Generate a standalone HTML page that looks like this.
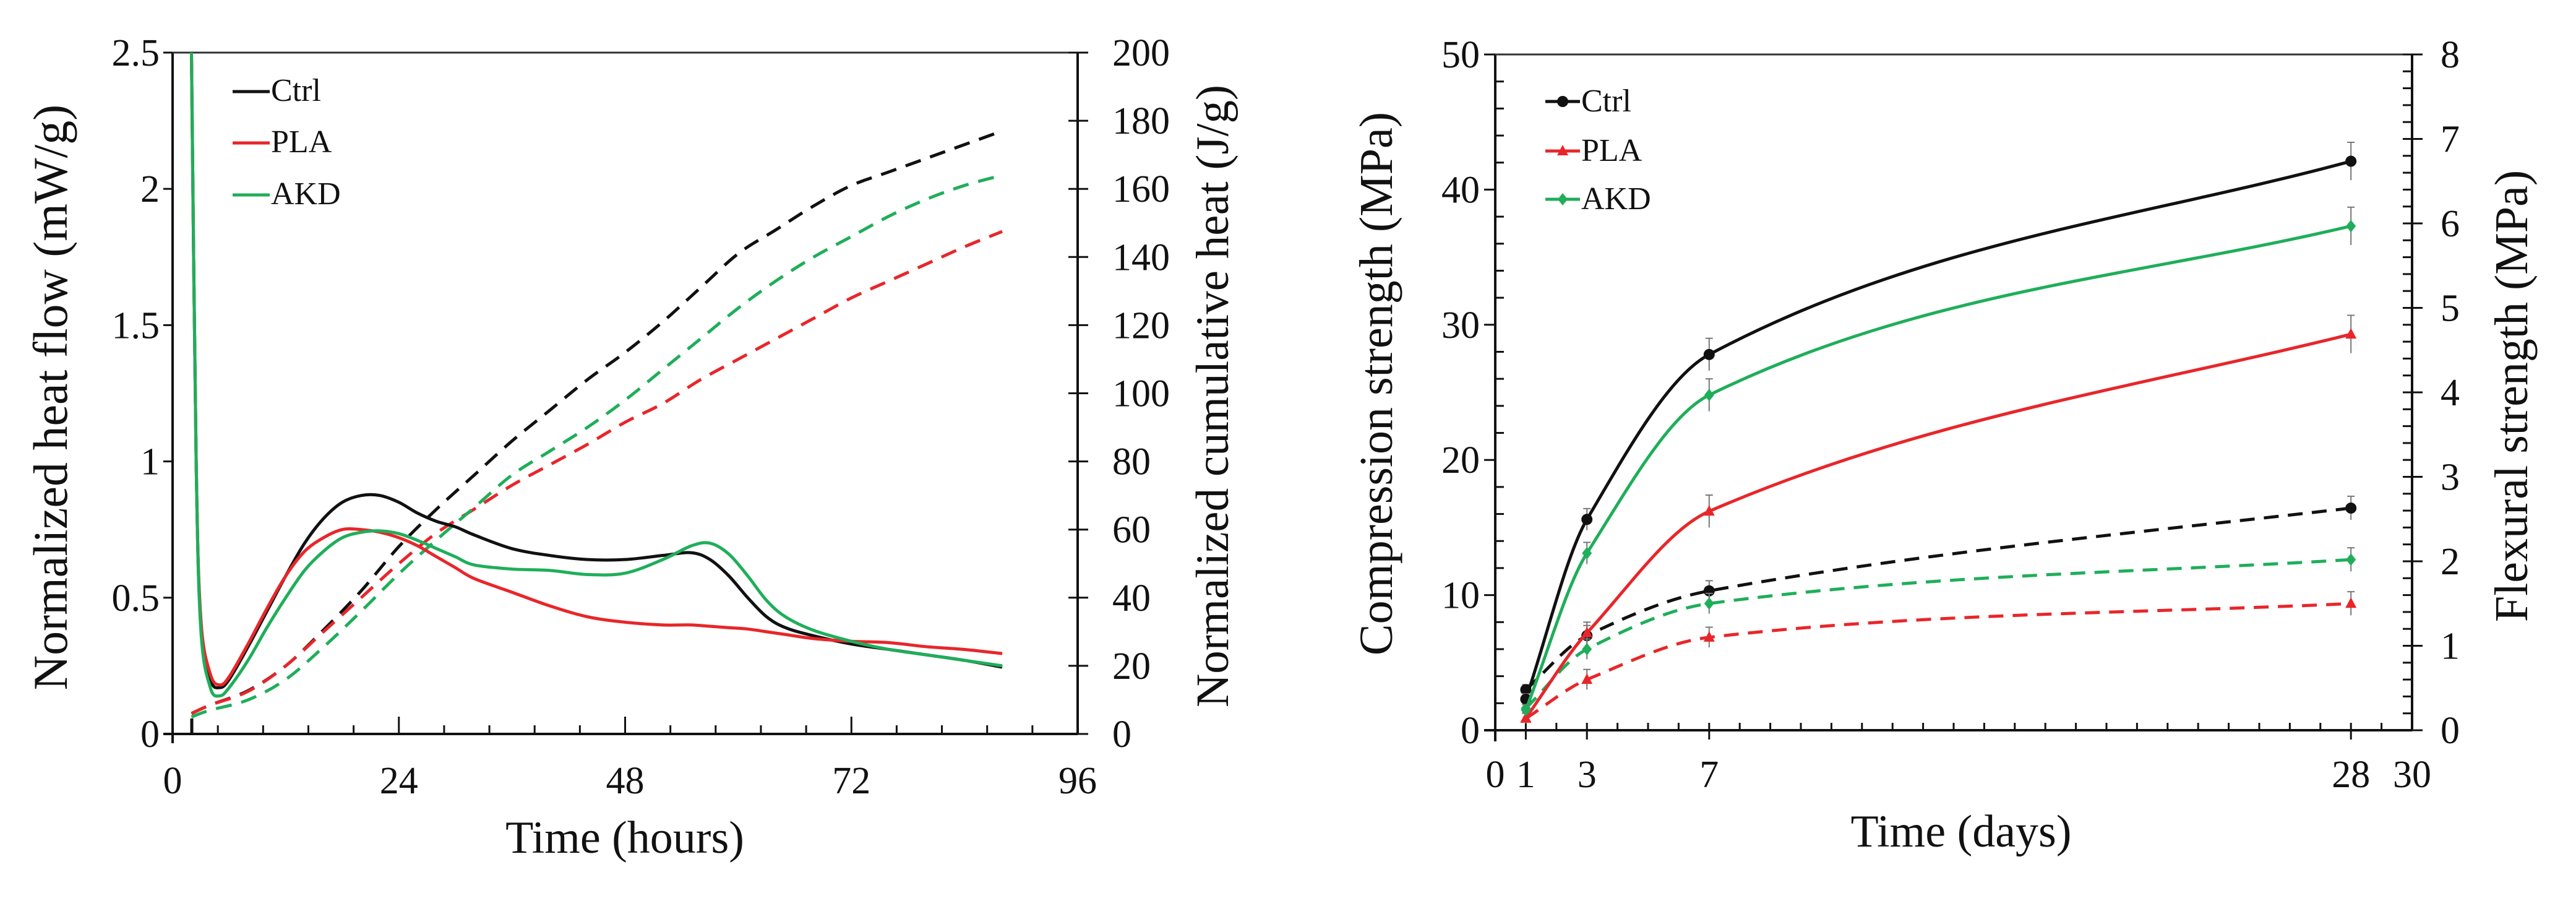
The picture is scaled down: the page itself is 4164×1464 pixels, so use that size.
<!DOCTYPE html>
<html><head><meta charset="utf-8"><style>
html,body{margin:0;padding:0;background:#fff}
svg{display:block}
text{font-family:"Liberation Serif",serif;fill:#111}
</style></head><body>
<svg id="fig" width="4164" height="1464" viewBox="0 0 4164 1464" xmlns="http://www.w3.org/2000/svg">
<defs>
<clipPath id="clipL"><rect x="279" y="85" width="1463" height="1101"/></clipPath>
<clipPath id="clipR"><rect x="2417" y="88" width="1482" height="1092"/></clipPath>
</defs>
<g id="chartL"></g>
<g id="chartR"></g>
</svg>
<script>
// ---- Left chart data ----
const hfTimes = [2,2.5,3,4,5,6,8,10,12,14,16,18,20,22,24,26,28,30,32,36,40,44,48,52,55,57,59,61,63,65,68,72,76,80,84,88];
const hfCtrl = [2.5,1.0,0.4,0.2,0.17,0.2,0.32,0.45,0.58,0.7,0.79,0.85,0.875,0.875,0.85,0.81,0.78,0.76,0.73,0.68,0.655,0.64,0.64,0.655,0.665,0.64,0.58,0.5,0.43,0.39,0.36,0.33,0.31,0.29,0.27,0.245];
const hfPLA = [2.5,1.0,0.42,0.22,0.18,0.21,0.33,0.46,0.58,0.67,0.72,0.75,0.75,0.74,0.72,0.69,0.65,0.61,0.57,0.52,0.47,0.43,0.41,0.40,0.40,0.395,0.39,0.385,0.375,0.365,0.35,0.34,0.335,0.32,0.31,0.295];
const hfAKD = [2.5,1.0,0.38,0.17,0.14,0.17,0.27,0.39,0.5,0.6,0.67,0.72,0.74,0.745,0.735,0.71,0.68,0.65,0.62,0.605,0.6,0.585,0.59,0.64,0.69,0.70,0.66,0.58,0.49,0.43,0.38,0.34,0.31,0.29,0.27,0.25];
const cumTimes = [2,4,8,12,16,20,24,28,32,36,40,44,48,52,56,60,64,68,72,76,80,84,88];
const cumCtrl = [6,8.5,12.7,20,30.5,42,55,66,76,86,95,104,112,121,131,141,148,155,161,165,169,173,177];
const cumPLA = [6,8.5,12.5,20,30,40,50,59,66,73,79,85,91.5,97,104,110,116,122,128,133,138,143,147.5];
const cumAKD = [5,7,10,16,25.5,36,47,57,66.5,76,83,90,98,107,116,125,133,140,146,152,157,161,164];
const xTicksL = [0,24,48,72,96];
const yTicksL = ["0","0.5","1","1.5","2","2.5"];
const y2TicksL = [0,20,40,60,80,100,120,140,160,180,200];

// ---- Right chart data ----
const days = [1,3,7,28];
const compCtrl = [2.3,15.6,27.8,42.1];
const compPLA = [0.9,7.2,16.2,29.3];
const compAKD = [1.5,13.1,24.8,37.3];
const flexCtrl = [0.48,1.12,1.65,2.63];
const flexPLA = [0.14,0.6,1.1,1.5];
const flexAKD = [0.26,0.96,1.5,2.02];
const compErr = [0.4,0.8,1.2,1.4];
const flexErr = [0.06,0.12,0.12,0.14];
const xTicksR = [0,1,3,7,28,30];
const yTicksR = [0,10,20,30,40,50];
const y2TicksR = [0,1,2,3,4,5,6,7,8];

const NS="http://www.w3.org/2000/svg";
function mk(parent,tag,attrs,txt){const e=document.createElementNS(NS,tag);for(const k in attrs)e.setAttribute(k,attrs[k]);if(txt!==undefined)e.textContent=txt;parent.appendChild(e);return e;}
function smooth(pts){let d=`M${pts[0][0]},${pts[0][1]}`;for(let i=0;i<pts.length-1;i++){const p0=pts[Math.max(0,i-1)],p1=pts[i],p2=pts[i+1],p3=pts[Math.min(pts.length-1,i+2)];const c1=[p1[0]+(p2[0]-p0[0])/6,p1[1]+(p2[1]-p0[1])/6];const c2=[p2[0]-(p3[0]-p1[0])/6,p2[1]-(p3[1]-p1[1])/6];d+=` C${c1[0]},${c1[1]} ${c2[0]},${c2[1]} ${p2[0]},${p2[1]}`;}return d;}
// concave-style hermite: interior tangent near smaller-magnitude adjacent secant
function concave(pts){const n=pts.length;const dx=[],s=[];for(let i=0;i<n-1;i++){dx.push(pts[i+1][0]-pts[i][0]);s.push((pts[i+1][1]-pts[i][1])/dx[i]);}
const m=new Array(n);m[0]=s[0];m[n-1]=s[n-2]*0.9;for(let i=1;i<n-1;i++){const a=s[i-1],b=s[i];const lo=Math.abs(a)<Math.abs(b)?a:b,hi=Math.abs(a)<Math.abs(b)?b:a;m[i]=lo+0.22*(hi-lo);}
let d=`M${pts[0][0]},${pts[0][1]}`;for(let i=0;i<n-1;i++){const h=dx[i]/3;d+=` C${pts[i][0]+h},${pts[i][1]+m[i]*h} ${pts[i+1][0]-h},${pts[i+1][1]-m[i+1]*h} ${pts[i+1][0]},${pts[i+1][1]}`;}return d;}
const BLACK="#111",RED="#e8262a",GREEN="#1fae5a";

// ===== Left chart =====
(function(){
const g=document.getElementById('chartL');
const X0=279,X1=1742,Y0=1186,Y1=85;
const xs=t=>X0+(t/96)*(X1-X0), ys=v=>Y0-(v/2.5)*(Y0-Y1), ys2=v=>Y0-(v/200)*(Y0-Y1);
const ax=mk(g,'g',{});


mk(ax,'line',{x1:X0,y1:Y1,x2:X0,y2:Y0+15,stroke:BLACK,'stroke-width':4});
mk(ax,'line',{x1:X0-15,y1:Y0,x2:X1,y2:Y0,stroke:BLACK,'stroke-width':4});
mk(ax,'line',{x1:X0,y1:Y1,x2:X1+17,y2:Y1,stroke:'#333','stroke-width':3});
mk(ax,'line',{x1:X1,y1:Y1,x2:X1,y2:Y0,stroke:BLACK,'stroke-width':4});
for(let i=0;i<=20;i++){const x=X0+i*(X1-X0)/20;const major=i%5===0;mk(ax,'line',{x1:x,y1:Y0,x2:x,y2:Y0-(major?28:14),stroke:BLACK,'stroke-width':3});}
xTicksL.forEach(t=>{const e=mk(ax,'text',{x:xs(t),y:1282,'font-size':62,'text-anchor':'middle'},String(t));});
yTicksL.forEach(s=>{const v=parseFloat(s);const y=ys(v);mk(ax,'line',{x1:X0-15,y1:y,x2:X0,y2:y,stroke:BLACK,'stroke-width':3});const e=mk(ax,'text',{x:258,y:y+21,'font-size':62,'text-anchor':'end'},s);});
y2TicksL.forEach(v=>{const y=ys2(v);mk(ax,'line',{x1:X1-15,y1:y,x2:X1+17,y2:y,stroke:BLACK,'stroke-width':3});const e=mk(ax,'text',{x:1798,y:y+21,'font-size':62,'text-anchor':'start'},String(v));});
let t=mk(g,'text',{x:1010,y:1378,'font-size':74,'text-anchor':'middle'},'Time (hours)');

t=mk(g,'text',{x:0,y:0,'font-size':78,'text-anchor':'middle',transform:`translate(108,642) rotate(-90)`},'Normalized heat flow (mW/g)');

t=mk(g,'text',{x:0,y:0,'font-size':75,'text-anchor':'middle',transform:`translate(1985,640) rotate(-90)`},'Normalized cumulative heat (J/g)');

mk(g,'line',{x1:310,y1:Y0,x2:310,y2:Y0-25,stroke:BLACK,'stroke-width':5});
const plot=mk(g,'g',{'clip-path':'url(#clipL)'});
const cums=[[cumCtrl,BLACK,'ctrl'],[cumPLA,RED,'pla'],[cumAKD,GREEN,'akd']];
cums.forEach(([arr,c,n])=>{const p=mk(plot,'path',{d:smooth(cumTimes.map((tt,i)=>[xs(tt),ys2(arr[i])])),fill:'none',stroke:c,'stroke-width':5,'stroke-dasharray':'26 16'});});
const hfs=[[hfCtrl,BLACK,'ctrl'],[hfPLA,RED,'pla'],[hfAKD,GREEN,'akd']];
hfs.forEach(([arr,c,n])=>{const p=mk(plot,'path',{d:smooth(hfTimes.map((tt,i)=>[xs(tt),ys(arr[i])])),fill:'none',stroke:c,'stroke-width':5});});
[['Ctrl',BLACK,163],['PLA',RED,246],['AKD',GREEN,330]].forEach(([l,c,y])=>{const le=mk(g,'g',{});mk(le,'line',{x1:376,y1:y-15,x2:436,y2:y-15,stroke:c,'stroke-width':5});mk(le,'text',{x:438,y:y,'font-size':52},l);});
})();

// ===== Right chart =====
(function(){
const g=document.getElementById('chartR');
const X0=2417,X1=3899,Y0=1180,Y1=88;
const xs=d=>X0+(d/30)*(X1-X0), ys=v=>Y0-(v/50)*(Y0-Y1), ys2=v=>Y0-(v/8)*(Y0-Y1);
const ax=mk(g,'g',{});


mk(ax,'line',{x1:X0,y1:Y1,x2:X0,y2:Y0+18,stroke:BLACK,'stroke-width':4});
mk(ax,'line',{x1:X0-18,y1:Y0,x2:X1,y2:Y0,stroke:BLACK,'stroke-width':4});
mk(ax,'line',{x1:X0,y1:Y1,x2:X1+17,y2:Y1,stroke:'#333','stroke-width':3});
mk(ax,'line',{x1:X1,y1:Y1,x2:X1,y2:Y0,stroke:BLACK,'stroke-width':4});
for(let i=0;i<=30;i++){const x=xs(i);const lab=xTicksR.includes(i)&&i>0&&i<30;mk(ax,'line',{x1:x,y1:Y0-12,x2:x,y2:Y0+(lab?15:0),stroke:BLACK,'stroke-width':3});}
xTicksR.forEach(d=>{const e=mk(ax,'text',{x:xs(d),y:1272,'font-size':62,'text-anchor':'middle'},String(d));});
for(let v=0;v<=50;v+=2){const y=ys(v);mk(ax,'line',{x1:X0,y1:y,x2:X0+(v%10===0?0:14),y2:y,stroke:BLACK,'stroke-width':3});}
yTicksR.forEach(v=>{const y=ys(v);mk(ax,'line',{x1:X0-18,y1:y,x2:X0,y2:y,stroke:BLACK,'stroke-width':3});const e=mk(ax,'text',{x:2392,y:y+21,'font-size':62,'text-anchor':'end'},String(v));});
for(let k=0;k<=40;k++){const y=ys2(k*0.2);const major=k%5===0;mk(ax,'line',{x1:X1-15,y1:y,x2:X1+(major?17:0),y2:y,stroke:BLACK,'stroke-width':3});}
y2TicksR.forEach(v=>{const e=mk(ax,'text',{x:3945,y:ys2(v)+21,'font-size':62,'text-anchor':'start'},String(v));});
let t=mk(g,'text',{x:3170,y:1368,'font-size':74,'text-anchor':'middle'},'Time (days)');

t=mk(g,'text',{x:0,y:0,'font-size':76,'text-anchor':'middle',transform:`translate(2250,620) rotate(-90)`},'Compression strength (MPa)');

t=mk(g,'text',{x:0,y:0,'font-size':76,'text-anchor':'middle',transform:`translate(4085,640) rotate(-90)`},'Flexural strength (MPa)');

const plot=mk(g,'g',{'clip-path':'url(#clipR)'});
function marker(par,type,x,y,c){if(type==='circle')return mk(par,'circle',{cx:x,cy:y,r:9,fill:c});if(type==='tri')return mk(par,'polygon',{points:`${x},${y-10} ${x-9},${y+7} ${x+9},${y+7}`,fill:c});return mk(par,'polygon',{points:`${x},${y-10} ${x+8},${y} ${x},${y+10} ${x-8},${y}`,fill:c});}
const series=[[flexCtrl,BLACK,'circle','flex-ctrl',ys2,flexErr,true],[flexPLA,RED,'tri','flex-pla',ys2,flexErr,true],[flexAKD,GREEN,'dia','flex-akd',ys2,flexErr,true],
[compCtrl,BLACK,'circle','comp-ctrl',ys,compErr,false],[compPLA,RED,'tri','comp-pla',ys,compErr,false],[compAKD,GREEN,'dia','comp-akd',ys,compErr,false]];
series.forEach(([arr,c,m,n,yf,err,dash])=>{const sg=mk(plot,'g',{});
const pts=days.map((d,i)=>[xs(d),yf(arr[i])]);
const attrs={d:concave(pts),fill:'none',stroke:c,'stroke-width':5};if(dash)attrs['stroke-dasharray']='24 15';mk(sg,'path',attrs);
days.forEach((d,i)=>{const x=xs(d);mk(sg,'line',{x1:x,y1:yf(arr[i]-err[i]),x2:x,y2:yf(arr[i]+err[i]),stroke:'#777','stroke-width':2});mk(sg,'line',{x1:x-6,y1:yf(arr[i]+err[i]),x2:x+6,y2:yf(arr[i]+err[i]),stroke:'#777','stroke-width':2});
const mEl=marker(sg,m,x,yf(arr[i]),c);});});
[['Ctrl',BLACK,'circle',180],['PLA',RED,'tri',260],['AKD',GREEN,'dia',338]].forEach(([l,c,m,y])=>{const le=mk(g,'g',{});mk(le,'line',{x1:2498,y1:y-16,x2:2554,y2:y-16,stroke:c,'stroke-width':5});marker(le,m,2526,y-16,c);mk(le,'text',{x:2556,y:y,'font-size':52},l);});
})();
</script>
</body></html>
